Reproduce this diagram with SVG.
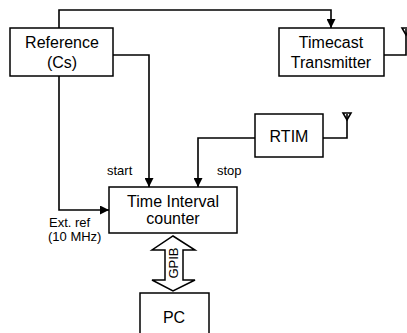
<svg xmlns="http://www.w3.org/2000/svg" width="407" height="333" viewBox="0 0 407 333">
<defs>
<style>
.box{fill:#fff;stroke:#000;stroke-width:1.5}
.ln{fill:none;stroke:#000;stroke-width:1.6}
.t{font-family:"Liberation Sans",Arial,sans-serif;font-size:16px;fill:#000;text-anchor:middle}
.s{font-family:"Liberation Sans",Arial,sans-serif;font-size:13px;fill:#000}
</style>
<marker id="arr" viewBox="0 0 10 10" refX="10" refY="5" markerWidth="9" markerHeight="9" markerUnits="userSpaceOnUse" orient="auto">
<path d="M0,0 L10,5 L0,10 Z" fill="#000"/>
</marker>
</defs>
<rect width="407" height="333" fill="#fff"/>
<g id="connectors">
<path class="ln" d="M59 28 V10 H331 V28" marker-end="url(#arr)"/>
<path class="ln" d="M113 55 H149 V187" marker-end="url(#arr)"/>
<path class="ln" d="M59 76 V210 H109" marker-end="url(#arr)"/>
<path class="ln" d="M255 138 H198 V187" marker-end="url(#arr)"/>
<path class="ln" d="M323 138 H347 V114"/>
<path class="ln" d="M343 113 H351 L347 120 Z"/>
<path class="ln" d="M384 55 H406 V29"/>
<path class="ln" d="M402 28 H410 L406 35 Z"/>
<polygon class="box" points="173,236 195,250 183,250 183,280 195,280 173,291 152,280 165,280 165,250 152,250"/>
<text class="s" font-size="12.5" text-anchor="middle" transform="translate(178,263) rotate(-90)">GPIB</text>
<text class="s" x="107" y="175">start</text>
<text class="s" x="217" y="175">stop</text>
<text class="s" x="49" y="227" font-size="12.5">Ext. ref</text>
<text class="s" x="48" y="241" font-size="12.5">(10 MHz)</text>
</g>
<g id="reference">
<rect class="box" x="10" y="28" width="103" height="48"/>
<text class="t" x="62" y="48">Reference</text>
<text class="t" x="62" y="68">(Cs)</text>
</g>
<g id="transmitter">
<rect class="box" x="279" y="28" width="105" height="48"/>
<text class="t" x="331" y="48">Timecast</text>
<text class="t" x="331" y="68">Transmitter</text>
</g>
<g id="rtim">
<rect class="box" x="255" y="114" width="68" height="43"/>
<text class="t" x="289" y="142" font-size="15">RTIM</text>
</g>
<g id="tic">
<rect class="box" x="109" y="187" width="128" height="46"/>
<text class="t" x="173" y="207">Time Interval</text>
<text class="t" x="173" y="224">counter</text>
</g>
<g id="pc">
<rect class="box" x="140" y="293" width="69" height="50"/>
<text class="t" x="174" y="323">PC</text>
</g>
</svg>
